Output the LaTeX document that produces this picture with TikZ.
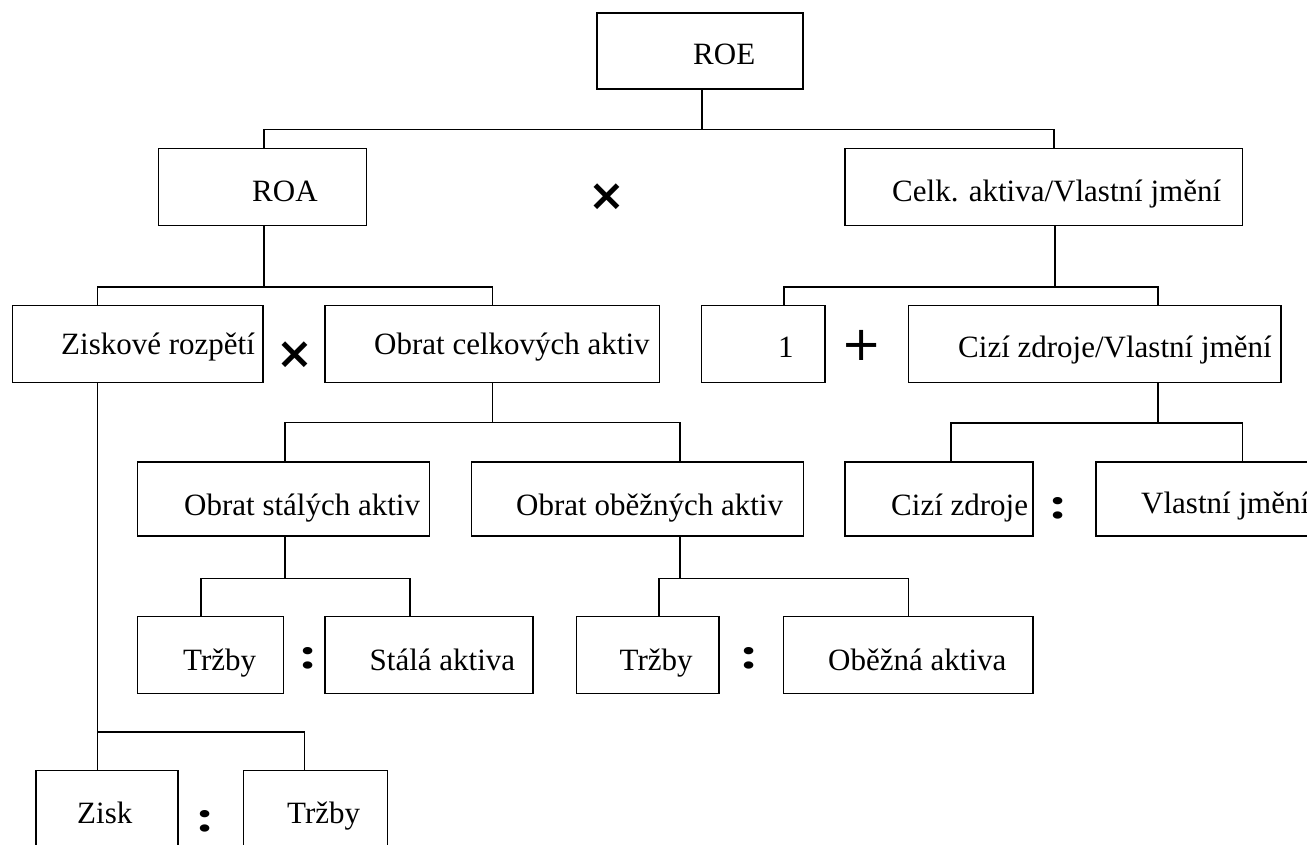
\documentclass[tikz,border=0pt]{standalone}
\usepackage{fontspec}
\usepackage{graphicx}
\setmainfont{Liberation Serif}
\newfontfamily\symfont{DejaVu Sans}
\newfontfamily\colfont{Liberation Serif}
\begin{document}
\begin{tikzpicture}[x=1pt,y=-1pt,
  box/.style={draw=black,line width=1.3pt,rectangle,inner sep=0pt,minimum height=77pt},
  lbl/.style={anchor=base west,inner sep=0pt,font=\fontsize{31}{36}\selectfont},
  opsym/.style={inner sep=0pt,font=\fontsize{44}{50}\selectfont\symfont\bfseries},
  plussym/.style={inner sep=0pt,font=\fontsize{48}{54}\selectfont\symfont},
  colsym/.style={inner sep=0pt,font=\fontsize{56}{60}\selectfont\colfont\bfseries},
  conn/.style={line width=1.3pt,black}]
\useasboundingbox (0,0) rectangle (1307,845);
\clip (0,0) rectangle (1307,845);
\fill[white] (0,0) rectangle (1307,845);
% boxes
\node[box,minimum width=206pt,minimum height=76pt] (roe) at (700,51) {};
\node[box,minimum width=208.4pt] (roa) at (262.5,186.7) {};
\node[box,minimum width=397.5pt] (celk) at (1043.75,186.7) {};
\node[box,minimum width=250.4pt] (zisrozp) at (137.8,343.75) {};
\node[box,minimum width=334.3pt] (obcelk) at (492.2,343.75) {};
\node[box,minimum width=123.3pt] (one) at (763.3,343.75) {};
\node[box,minimum width=372.5pt] (cizvl) at (1094.75,343.75) {};
\node[box,minimum width=291.7pt,minimum height=74pt] (obstal) at (283.5,499) {};
\node[box,minimum width=332.2pt,minimum height=74pt] (obobez) at (637.5,499) {};
\node[box,minimum width=188pt,minimum height=74pt] (cizi) at (939,499) {};
\node[box,minimum width=244pt,minimum height=74pt] (vlast) at (1218,499) {};
\node[box,minimum width=145.7pt] (trza) at (210.5,654.75) {};
\node[box,minimum width=208pt] (stala) at (429,654.75) {};
\node[box,minimum width=142.4pt] (trzb) at (647.8,654.75) {};
\node[box,minimum width=249.2pt] (obezna) at (908.4,654.75) {};
\node[box,minimum width=142pt] (zisk) at (107,809.2) {};
\node[box,minimum width=144pt] (trzc) at (315.3,809.2) {};
% labels
\node[lbl] (troe) at (693,65) {ROE};
\node[lbl] (troa) at (252,202) {ROA};
\node[lbl] (tcelk) at (892,202) {Celk. aktiva/Vlastní jmění};
\node[lbl] (tzisrozp) at (61,354) {Ziskové rozpětí};
\node[lbl] (tobcelk) at (374,354) {Obrat celkových aktiv};
\node[lbl] (tone) at (778,357) {1};
\node[lbl] (tcizvl) at (958,357) {Cizí zdroje/Vlastní jmění};
\node[lbl] (tobstal) at (184,515) {Obrat stálých aktiv};
\node[lbl] (tobobez) at (516,515) {Obrat oběžných aktiv};
\node[lbl] (tcizi) at (891,515) {Cizí zdroje};
\node[lbl] (tvlast) at (1141,513) {Vlastní jmění};
\node[lbl] (ttrza) at (183,670) {Tržby};
\node[lbl] (tstala) at (369.5,670) {Stálá aktiva};
\node[lbl] (ttrzb) at (619.5,670) {Tržby};
\node[lbl] (tobezna) at (828,670) {Oběžná aktiva};
\node[lbl] (tzisk) at (77,823) {Zisk};
\node[lbl] (ttrzc) at (287,823) {Tržby};
% operators
\node[opsym] (x1) at (607,197) {×};
\node[opsym] (x2) at (294.5,355) {×};
\node[plussym] (p1) at (861.7,345.7) {+};
\node[colsym] (c1) at (308.3,658) {\scalebox{1.05}[0.8]{:}};
\node[colsym] (c2) at (749.5,658) {\scalebox{1.05}[0.8]{:}};
\node[colsym] (c3) at (1058,508) {\scalebox{1.05}[0.8]{:}};
\node[colsym] (c4) at (205,821) {\scalebox{1.05}[0.8]{:}};
% connectors
\draw[conn] ([xshift=2pt]roe.south) -- ++(0,40) coordinate (j1) -| ([xshift=1.5pt]roa.north);
\draw[conn] (j1) -| ([xshift=10.25pt]celk.north);
\draw[conn] ([xshift=1.5pt]roa.south) -- ++(0,61) coordinate (j2) -| ([xshift=-40.2pt]zisrozp.north);
\draw[conn] (j2) -| (obcelk.north);
\draw[conn] ([xshift=11.25pt]celk.south) -- ++(0,61) coordinate (j3) -| ([xshift=20.7pt]one.north);
\draw[conn] (j3) -| ([xshift=63.25pt]cizvl.north);
\draw[conn] (obcelk.south) -- ++(0,39.5) coordinate (j4) -| ([xshift=1.5pt]obstal.north);
\draw[conn] (j4) -| ([xshift=42.5pt]obobez.north);
\draw[conn] ([xshift=63.25pt]cizvl.south) -- ++(0,40) coordinate (j5) -| ([xshift=12pt]cizi.north);
\draw[conn] (j5) -| ([xshift=24.3pt]vlast.north);
\draw[conn] ([xshift=1.5pt]obstal.south) -- ++(0,42) coordinate (j6) -| ([xshift=-9.5pt]trza.north);
\draw[conn] (j6) -| ([xshift=-19pt]stala.north);
\draw[conn] ([xshift=42.5pt]obobez.south) -- ++(0,42) coordinate (j7) -| ([xshift=11.2pt]trzb.north);
\draw[conn] (j7) -| (obezna.north);
\draw[conn] ([xshift=-40.2pt]zisrozp.south) -- ++(0,349.2) coordinate (j8) -| ([xshift=-9.4pt]zisk.north);
\draw[conn] (j8) -| ([xshift=-11pt]trzc.north);
\end{tikzpicture}
\end{document}
